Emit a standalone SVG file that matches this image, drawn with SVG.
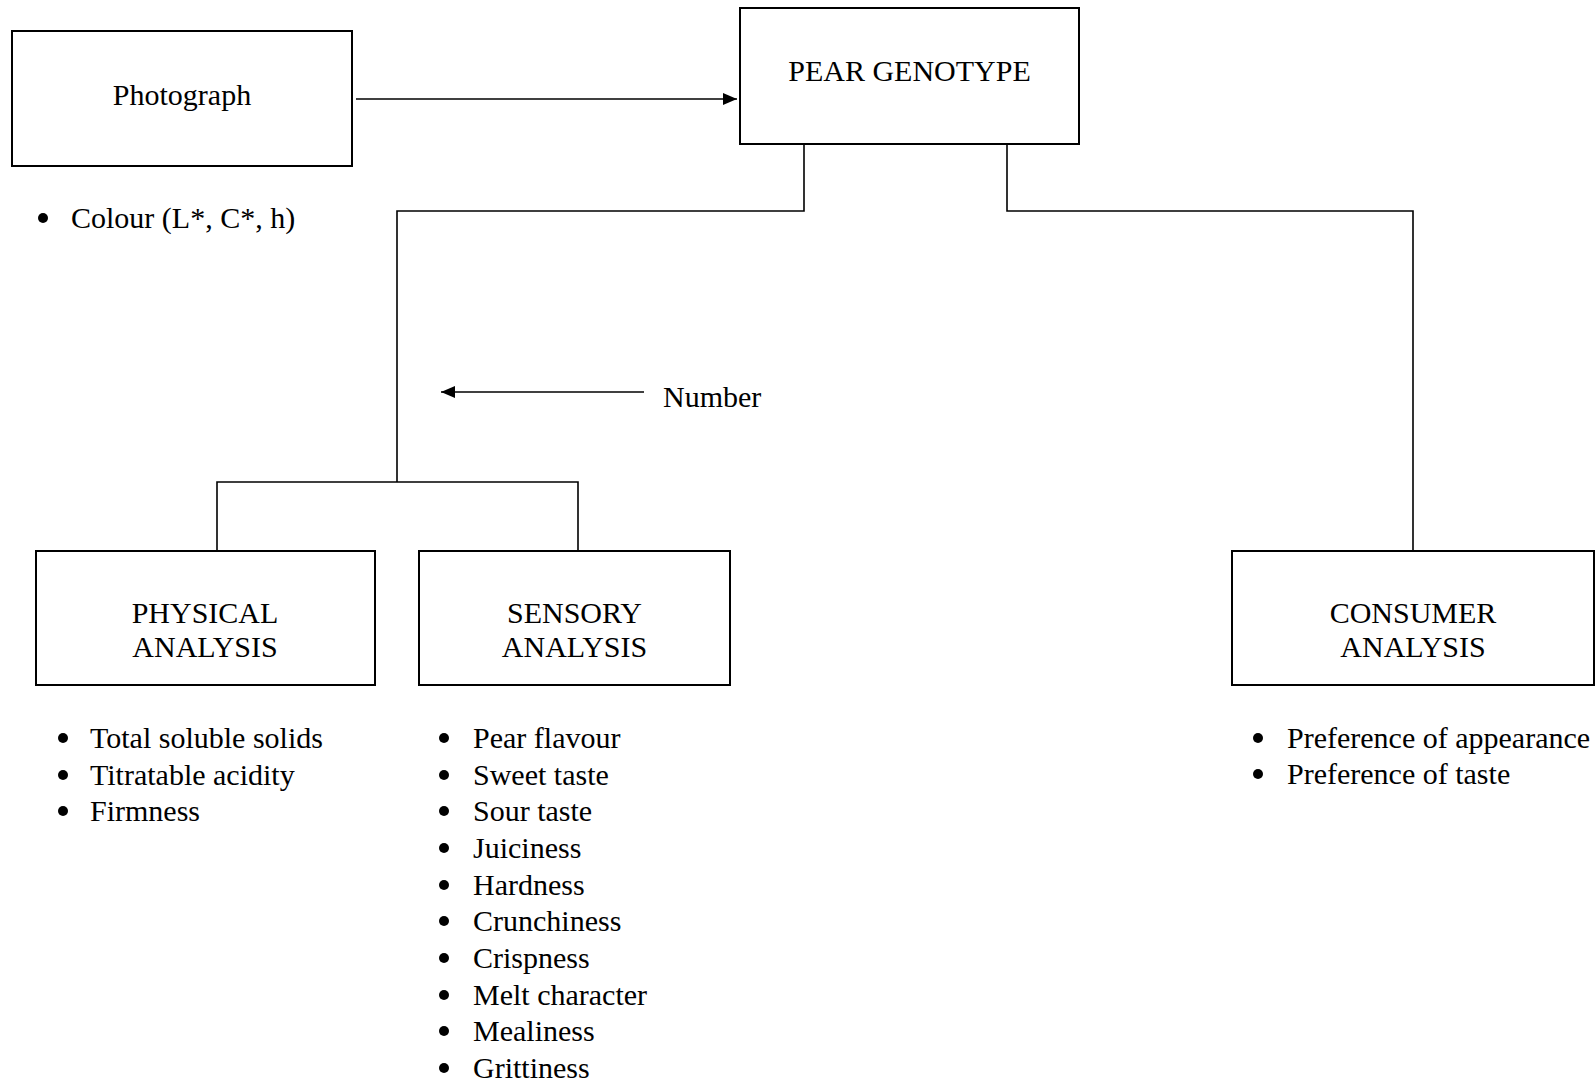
<svg xmlns="http://www.w3.org/2000/svg" width="1596" height="1084" viewBox="0 0 1596 1084">
<style>
.box{fill:#fff;stroke:#000;stroke-width:2}
.ln{fill:none;stroke:#000;stroke-width:1.6}
text{font-family:"Liberation Serif","Times New Roman",serif;font-size:30px;fill:#000}
.c{text-anchor:middle}
.b{fill:#000}
</style>
<defs>
<marker id="ah" viewBox="0 0 14 12" refX="14" refY="6" markerWidth="14" markerHeight="12" markerUnits="userSpaceOnUse" orient="auto">
<path d="M0,0 L14,6 L0,12 Z" fill="#000"/>
</marker>
</defs>
<rect width="1596" height="1084" fill="#fff"/>
<g id="connectors">
<line class="ln" x1="356" y1="99" x2="737" y2="99" marker-end="url(#ah)"/>
<polyline class="ln" points="804,144 804,211 397,211 397,482"/>
<polyline class="ln" points="217,551 217,482 578,482 578,551"/>
<polyline class="ln" points="1007,144 1007,211 1413,211 1413,551"/>
<line class="ln" x1="644" y1="392" x2="441" y2="392" marker-end="url(#ah)"/>
</g>
<g id="photograph">
<rect class="box" x="12" y="31" width="340" height="135"/>
<text class="c" x="182" y="105">Photograph</text>
<circle class="b" cx="43" cy="218" r="5"/>
<text x="71" y="228">Colour (L*, C*, h)</text>
</g>
<g id="pear-genotype">
<rect class="box" x="740" y="8" width="339" height="136"/>
<text class="c" x="909.5" y="81">PEAR GENOTYPE</text>
</g>
<g id="number-label">
<text x="663" y="407">Number</text>
</g>
<g id="physical-analysis">
<rect class="box" x="36" y="551" width="339" height="134"/>
<text class="c" x="205" y="623">PHYSICAL</text>
<text class="c" x="205" y="657">ANALYSIS</text>
<circle class="b" cx="63" cy="738" r="5"/>
<text x="90" y="748">Total soluble solids</text>
<circle class="b" cx="63" cy="775" r="5"/>
<text x="90" y="785">Titratable acidity</text>
<circle class="b" cx="63" cy="811" r="5"/>
<text x="90" y="821">Firmness</text>
</g>
<g id="sensory-analysis">
<rect class="box" x="419" y="551" width="311" height="134"/>
<text class="c" x="574.5" y="623">SENSORY</text>
<text class="c" x="574.5" y="657">ANALYSIS</text>
<circle class="b" cx="444" cy="738" r="5"/>
<text x="473" y="748">Pear flavour</text>
<circle class="b" cx="444" cy="775" r="5"/>
<text x="473" y="785">Sweet taste</text>
<circle class="b" cx="444" cy="811" r="5"/>
<text x="473" y="821">Sour taste</text>
<circle class="b" cx="444" cy="848" r="5"/>
<text x="473" y="858">Juiciness</text>
<circle class="b" cx="444" cy="885" r="5"/>
<text x="473" y="895">Hardness</text>
<circle class="b" cx="444" cy="921" r="5"/>
<text x="473" y="931">Crunchiness</text>
<circle class="b" cx="444" cy="958" r="5"/>
<text x="473" y="968">Crispness</text>
<circle class="b" cx="444" cy="995" r="5"/>
<text x="473" y="1005">Melt character</text>
<circle class="b" cx="444" cy="1031" r="5"/>
<text x="473" y="1041">Mealiness</text>
<circle class="b" cx="444" cy="1068" r="5"/>
<text x="473" y="1078">Grittiness</text>
</g>
<g id="consumer-analysis">
<rect class="box" x="1232" y="551" width="362" height="134"/>
<text class="c" x="1413" y="623">CONSUMER</text>
<text class="c" x="1413" y="657">ANALYSIS</text>
<circle class="b" cx="1258" cy="738" r="5"/>
<text x="1287" y="748">Preference of appearance</text>
<circle class="b" cx="1258" cy="774" r="5"/>
<text x="1287" y="784">Preference of taste</text>
</g>
</svg>
